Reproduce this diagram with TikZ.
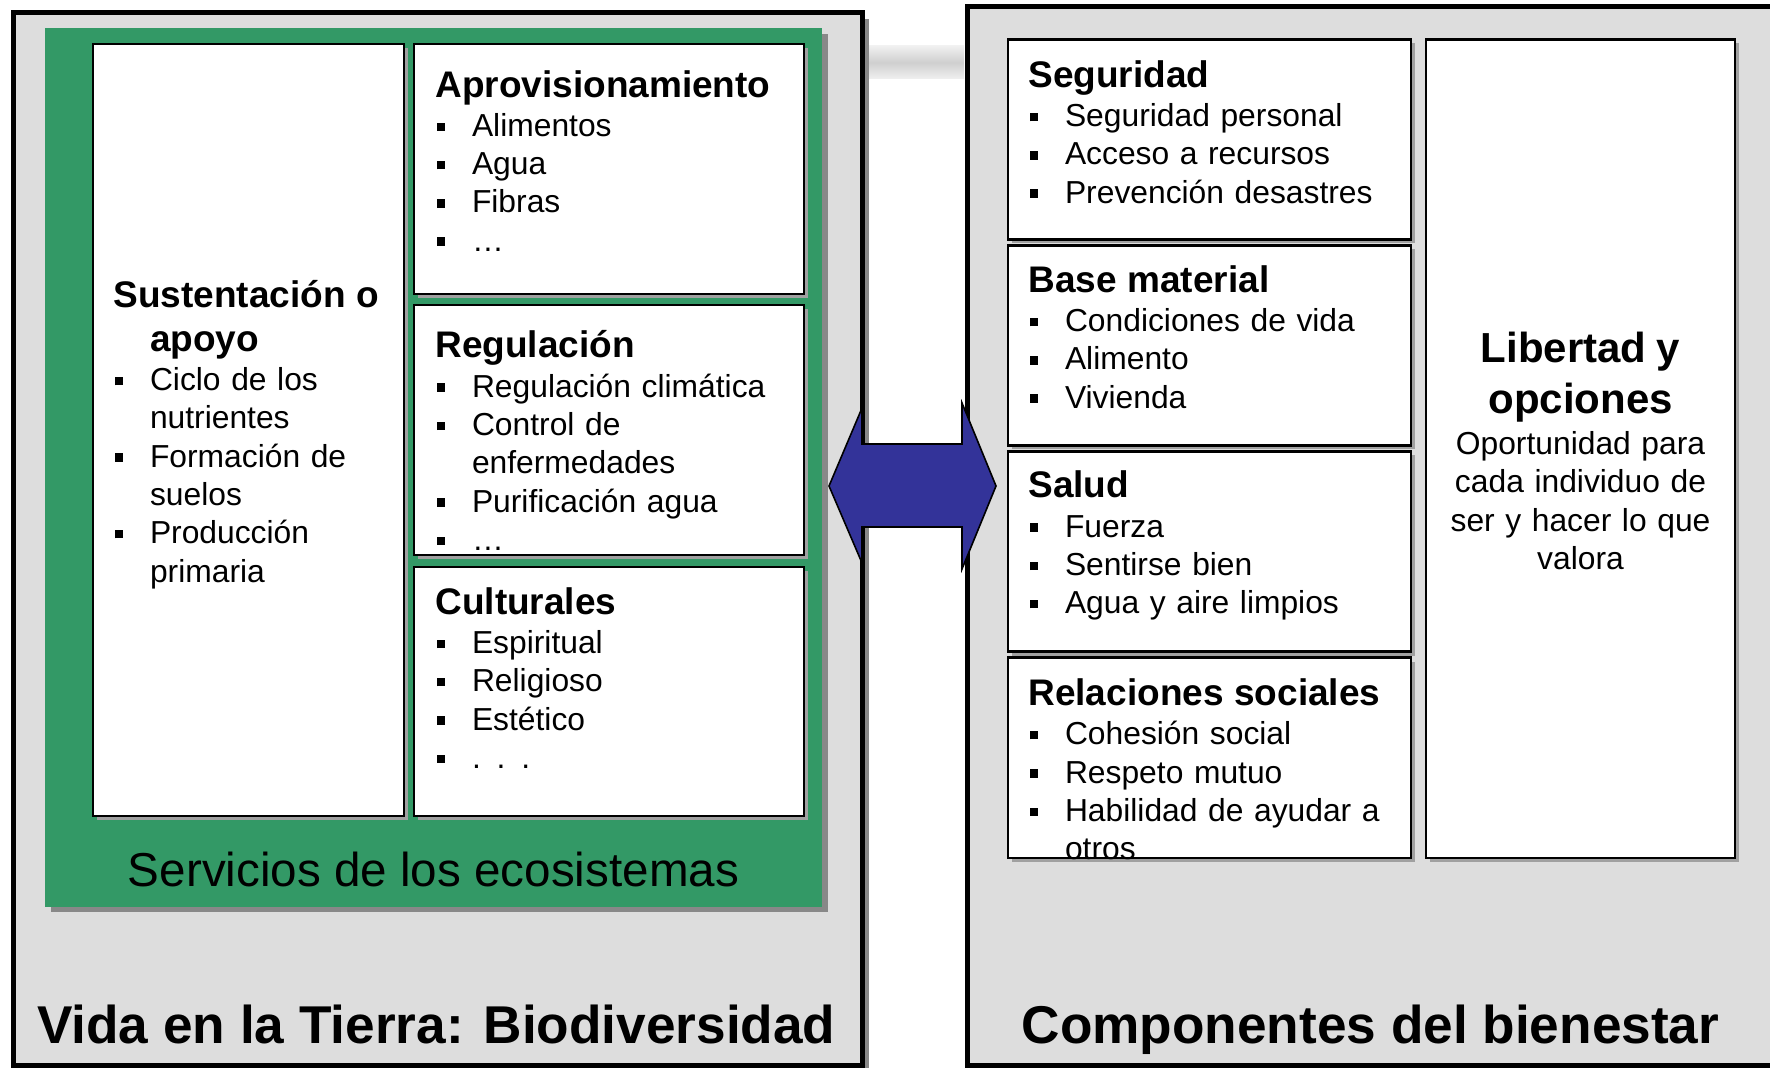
\documentclass[tikz,border=0pt]{standalone}
\usepackage{fontspec}
\setmainfont{Liberation Sans}
\usetikzlibrary{fit,shadows,calc}
\definecolor{ecogreen}{RGB}{51,153,102}
\definecolor{panelgray}{RGB}{221,221,221}
\definecolor{arrowblue}{RGB}{51,51,153}
\definecolor{shadowgray}{RGB}{136,136,136}
\definecolor{boxshadow}{RGB}{160,160,160}

\newcommand{\bulsq}{\makebox[18.3pt][l]{\hspace{0.8pt}\rule[2.7pt]{4.2pt}{4.2pt}}}
\newcommand{\bitem}[1]{\par\hangindent=18.3pt\hangafter=1\noindent\bulsq#1\par}
\newcommand{\bhead}[1]{{\fontsize{18.5}{21.85}\selectfont\bfseries\hangindent=18.3pt\hangafter=1\noindent\rule{0pt}{18pt}#1\par}\vspace{0.5pt}}

\begin{document}
\begin{tikzpicture}[x=0.5pt,y=-0.5pt,
  panel/.style={draw=black, line width=2.5pt, fill=panelgray, inner sep=0pt, outer sep=0pt,
    drop shadow={shadow xshift=3.5pt, shadow yshift=-3.5pt, fill=shadowgray, opacity=1}},
  greenbox/.style={fill=ecogreen, draw=none, inner sep=0pt, outer sep=0pt,
    drop shadow={shadow xshift=2.75pt, shadow yshift=-2.75pt, fill=shadowgray, opacity=1}},
  wbox/.style={draw=black, line width=1.2pt, fill=white, inner sep=0pt, outer sep=0pt,
    drop shadow={shadow xshift=2pt, shadow yshift=-2pt, fill=boxshadow, opacity=1}},
  blist/.style={anchor=north west, inner sep=0pt, text width=190pt, align=left,
    font=\fontsize{15.9}{19.15}\selectfont},
  biglabel/.style={anchor=base, inner sep=0pt, font=\fontsize{26.6}{32}\selectfont\bfseries},
  bigarrow/.style={fill=arrowblue, draw=black, line width=0.8pt, line join=miter}
]
\clip (0,0) rectangle (1770,1068);
\fill[white] (0,0) rectangle (1770,1068);

% outer panels
\node[panel, fit={(13,12.5) (862,1065.5)}] (life) {};
\node[panel, fit={(967,7) (1800,1065.5)}] (wellbeing) {};

% grey band between panels
\shade[top color=gray!12, bottom color=gray!12, middle color=gray!38] (869,46) rectangle (964,79);

% ecosystem services
\node[greenbox, fit={(45,28.5) (822,906.5)}] (eco) {};

\node[wbox, fit={(93,44) (404,816)}] (sup) {};
\node[wbox, fit={(414,44) (804,294)}] (prov) {};
\node[wbox, fit={(414,305) (804,555)}] (reg) {};
\node[wbox, fit={(414,567) (804,816)}] (cult) {};

% well-being components
\node[wbox, fit={(1008,39.5) (1411,239.5)}] (seg) {};
\node[wbox, fit={(1008,245.5) (1411,445.5)}] (base) {};
\node[wbox, fit={(1008,451.5) (1411,651.5)}] (salud) {};
\node[wbox, fit={(1008,657.5) (1411,858)}] (rel) {};
\node[wbox, fit={(1426,39.5) (1735,858)}] (lib) {};

% texts, left
\node[blist] (tsup) at (113,271.3) {\bhead{Sustentación o\newline apoyo}\bitem{Ciclo de los\newline nutrientes}\bitem{Formación de\newline suelos}\bitem{Producción\newline primaria}};
\node[blist] (tprov) at (435,60.7) {\bhead{Aprovisionamiento}\bitem{Alimentos}\bitem{Agua}\bitem{Fibras}\bitem{…}};
\node[blist] (treg) at (435,321.5) {\bhead{Regulación}\bitem{Regulación climática}\bitem{Control de\newline enfermedades}\bitem{Purificación agua}\bitem{…}};
\node[blist] (tcult) at (435,577.7) {\bhead{Culturales}\bitem{Espiritual}\bitem{Religioso}\bitem{Estético}\bitem{. . .}};

% texts, right
\node[blist] (tseg) at (1028,51) {\bhead{Seguridad}\bitem{Seguridad personal}\bitem{Acceso a recursos}\bitem{Prevención desastres}};
\node[blist] (tbase) at (1028,256) {\bhead{Base material}\bitem{Condiciones de vida}\bitem{Alimento}\bitem{Vivienda}};
\node[blist] (tsalud) at (1028,461.5) {\bhead{Salud}\bitem{Fuerza}\bitem{Sentirse bien}\bitem{Agua y aire limpios}};
\node[blist] (trel) at (1028,669) {\bhead{Relaciones sociales}\bitem{Cohesión social}\bitem{Respeto mutuo}\bitem{Habilidad de ayudar a\newline otros}};

\node[anchor=north, inner sep=0pt, text width=150pt, align=center, font=\fontsize{15.9}{19.2}\selectfont] (tlib) at (1580.5,325.7)
  {{\fontsize{21}{25.5}\selectfont\bfseries\rule{0pt}{18pt}Libertad y\\ opciones\par}\vspace{1.4pt}Oportunidad para\\ cada individuo de\\ ser y hacer lo que\\ valora};

% labels
\node[anchor=base, inner sep=0pt, font=\fontsize{23.8}{28}\selectfont] (ecolabel) at (433.5,886.5) {Servicios de los ecosistemas};
\node[biglabel] (lifelabel) at (436.3,1043.5) {Vida en la Tierra: Biodiversidad};
\node[biglabel] (welllabel) at (1370.4,1043.5) {Componentes del bienestar};

% double arrow between the panels
\coordinate (arrL) at (829,486);
\coordinate (arrR) at (996,486);
\draw[bigarrow] (arrL) -- ++(33,-78) -- ++(0,36) -- ++(100,0) -- ++(0,-41) -- (arrR)
  -- ++(-34,83) -- ++(0,-42) -- ++(-100,0) -- ++(0,36) -- cycle;
\end{tikzpicture}
\end{document}
